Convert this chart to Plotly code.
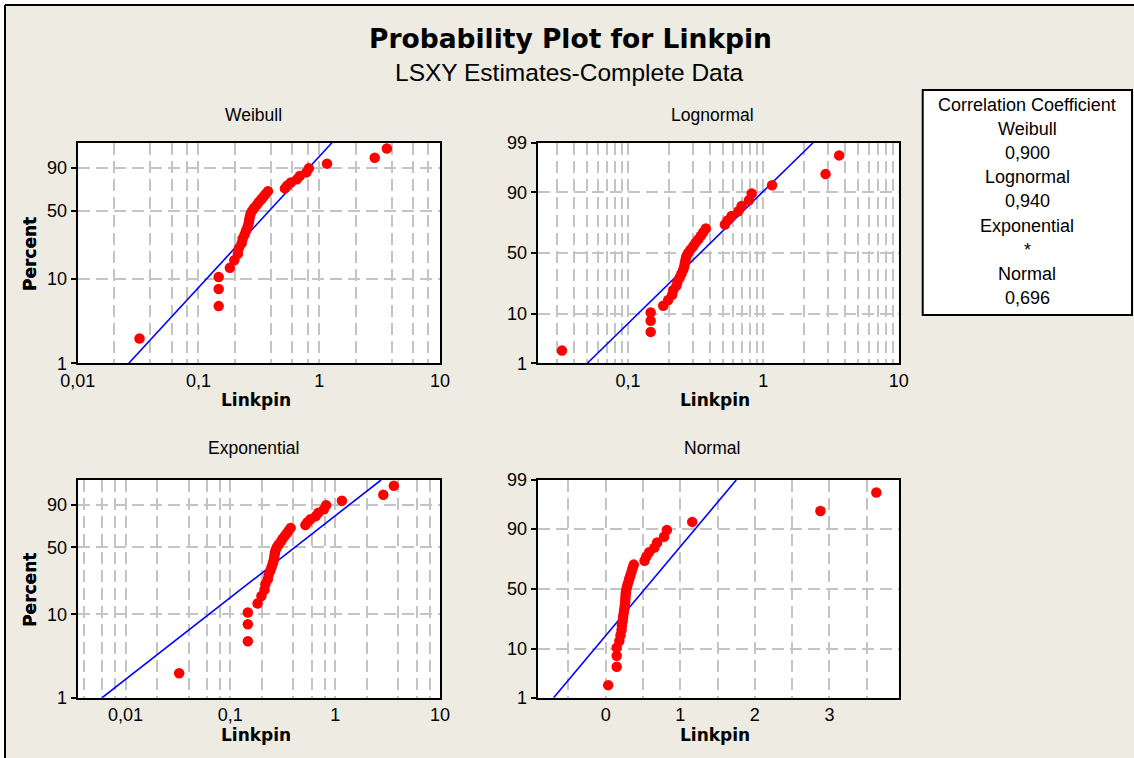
import math
from statistics import NormalDist
import numpy as np
import plotly.graph_objects as go

# ---------------- data ----------------
linkpin = [0.0325, 0.147, 0.147, 0.147, 0.182, 0.198, 0.212, 0.216, 0.228, 0.232,
           0.241, 0.248, 0.255, 0.260, 0.263, 0.266, 0.270, 0.278, 0.289, 0.303,
           0.315, 0.330, 0.345, 0.360, 0.376, 0.520, 0.544, 0.582, 0.653, 0.690,
           0.782, 0.820, 1.16, 2.88, 3.63]
dist_names = ["Weibull", "Lognormal", "Exponential", "Normal"]
corr_values = ["0,900", "0,940", "*", "0,696"]
percent_ticks_weibull = [1, 10, 50, 90]
percent_ticks_normal = [1, 10, 50, 90, 99]
weibull_x_labels = {0.01: "0,01", 0.1: "0,1", 1: "1", 10: "10"}
lognormal_x_labels = {0.1: "0,1", 1: "1", 10: "10"}
exponential_x_labels = {0.01: "0,01", 0.1: "0,1", 1: "1", 10: "10"}
normal_x_labels = {0: "0", 1: "1", 2: "2", 3: "3"}

W, H = 1134, 758
BEIGE = "rgb(238,235,226)"
FONT = "Liberation Sans, Arial, sans-serif"
BOLD = "DejaVu Sans, Verdana, sans-serif"

x = np.array(sorted(linkpin))
n = len(x)
ranks = np.arange(1, n + 1)
p = (ranks - 0.3) / (n + 0.4)          # median ranks (Benard)
nd = NormalDist()

def t_weib(pp):
    return np.log(-np.log(1 - np.asarray(pp, dtype=float)))

def t_norm(pp):
    return np.array([nd.inv_cdf(v) for v in np.atleast_1d(pp)])

def t_exp(pp):
    return np.log10(-np.log(1 - np.asarray(pp, dtype=float)))

P_LO, P_HI = 0.01, 0.99

# LSXY fits (X regressed on transformed percent)
def lsxy(xv, yv):
    b = np.cov(xv, yv, bias=True)[0, 1] / np.var(yv)
    a = xv.mean() - b * yv.mean()
    return a, b

wy = t_weib(p)
a_w, b_w = lsxy(np.log(x), wy)
zy = t_norm(p)
a_l, b_l = lsxy(np.log(x), zy)
ln_theta = np.mean(np.log(x) - wy)       # exponential: shape fixed to 1
a_n, b_n = lsxy(x, zy)

ends = np.array([P_LO, P_HI])
line_w_y = t_weib(ends); line_w_x = np.exp(a_w + b_w * line_w_y)
line_l_y = t_norm(ends); line_l_x = np.exp(a_l + b_l * line_l_y)
line_e_y = t_exp(ends); line_e_x = np.exp(ln_theta) * (-np.log(1 - ends))
line_n_y = t_norm(ends); line_n_x = a_n + b_n * line_n_y

# ---------------- layout helpers ----------------
def dom_x(l, r):
    return [l / W, r / W]

def dom_y(t, b):
    return [1 - b / H, 1 - t / H]

boxes = {
    "Weibull": (77.7, 440, 142.7, 363.3),
    "Lognormal": (537.7, 898.7, 142.7, 363.3),
    "Exponential": (77.7, 440, 480, 697.7),
    "Normal": (537.7, 898.7, 480, 697.7),
}

def log_grid(lo, hi, mults):
    vals = []
    for e in range(-4, 3):
        for m in mults:
            v = m * 10.0 ** e
            if lo * 0.999 <= v <= hi * 1.001:
                vals.append(round(v, 10))
    return sorted(set(vals))

fig = go.Figure()
GRID = dict(showgrid=True, gridcolor="rgb(196,196,196)", gridwidth=2, griddash="12px,6px",
            zeroline=False, showline=True, linecolor="black", linewidth=2, mirror=True,
            automargin=False)

# marks
specs = [
    ("Weibull", "x", "y", x, wy, line_w_x, line_w_y),
    ("Lognormal", "x2", "y2", x, zy, line_l_x, line_l_y),
    ("Exponential", "x3", "y3", x, t_exp(p), line_e_x, line_e_y),
    ("Normal", "x4", "y4", x, zy, line_n_x, line_n_y),
]
for name, xa, ya, xs, ys, lx, ly in specs:
    fig.add_trace(go.Scatter(x=lx, y=ly, xaxis=xa, yaxis=ya, mode="lines",
                             line=dict(color="rgb(0,0,255)", width=1.6),
                             showlegend=False, hoverinfo="skip"))
    fig.add_trace(go.Scatter(x=xs, y=ys, xaxis=xa, yaxis=ya, mode="markers",
                             marker=dict(color="rgb(255,0,0)", size=10.5),
                             showlegend=False, name=name))

def yaxis_def(name, transform, ticks_labeled, grid_p):
    l, r, t, b = boxes[name]
    vals = list(grid_p)
    tv = [float(np.atleast_1d(transform(v / 100.0))[0]) for v in vals]
    tt = [str(v) if v in ticks_labeled else "" for v in vals]
    rng = [float(np.atleast_1d(transform(P_LO))[0]), float(np.atleast_1d(transform(P_HI))[0])]
    return dict(domain=dom_y(t, b), range=rng, tickmode="array", tickvals=tv, ticktext=tt,
                ticks="outside", ticklen=5, tickwidth=2, tickcolor="black",
                tickfont=dict(family=FONT, size=18, color="black"), **GRID)

def xaxis_log(name, lo, hi, mults, labels):
    l, r, t, b = boxes[name]
    grid = log_grid(lo, hi, mults)
    tt = [labels.get(v, labels.get(int(v) if float(v).is_integer() else v, "")) for v in grid]
    return dict(domain=dom_x(l, r), type="log", range=[math.log10(lo), math.log10(hi)],
                tickmode="array", tickvals=grid, ticktext=tt, ticks="",
                tickfont=dict(family=FONT, size=18, color="black"), **GRID)

layout = dict(width=W, height=H, margin=dict(l=0, r=0, t=0, b=0, autoexpand=False),
              paper_bgcolor=BEIGE, plot_bgcolor="white", template="none")

layout["xaxis"] = xaxis_log("Weibull", 0.01, 10, [1, 2, 4, 6, 8], weibull_x_labels)
layout["yaxis"] = yaxis_def("Weibull", t_weib, percent_ticks_weibull, [1, 10, 50, 90])
layout["xaxis"]["anchor"] = "y"; layout["yaxis"]["anchor"] = "x"

layout["xaxis2"] = xaxis_log("Lognormal", 0.0215, 10, [1, 2, 3, 4, 5, 6, 7, 8, 9], lognormal_x_labels)
layout["yaxis2"] = yaxis_def("Lognormal", t_norm, percent_ticks_normal, [1, 10, 50, 90, 99])
layout["xaxis2"]["anchor"] = "y2"; layout["yaxis2"]["anchor"] = "x2"

layout["xaxis3"] = xaxis_log("Exponential", 0.0035, 10, [1, 2, 4, 6, 8], exponential_x_labels)
layout["yaxis3"] = yaxis_def("Exponential", t_exp, percent_ticks_weibull, [1, 10, 50, 90])
layout["xaxis3"]["anchor"] = "y3"; layout["yaxis3"]["anchor"] = "x3"

l, r, t, b = boxes["Normal"]
ngrid = [-0.5, 0, 0.5, 1, 1.5, 2, 2.5, 3, 3.5]
layout["xaxis4"] = dict(domain=dom_x(l, r), range=[-0.913, 3.93], tickmode="array", tickvals=ngrid,
                        ticktext=[normal_x_labels.get(v, "") if float(v).is_integer() else "" for v in ngrid],
                        ticks="", tickfont=dict(family=FONT, size=18, color="black"), anchor="y4", **GRID)
layout["yaxis4"] = yaxis_def("Normal", t_norm, percent_ticks_normal, [1, 10, 50, 90, 99])
layout["yaxis4"]["anchor"] = "x4"

fig.update_layout(**layout)

# ---------------- text ----------------
def ann(text, px, py, size, family=FONT, angle=0, bold=False):
    if bold:
        text = "<b>" + text + "</b>"
    fig.add_annotation(text=text, x=px / W, y=1 - py / H, xref="paper", yref="paper",
                       showarrow=False, xanchor="center", yanchor="middle", textangle=angle,
                       font=dict(family=family, size=size, color="black"))

ann("Probability Plot for Linkpin", 570, 38, 26.5, family=BOLD, bold=True)
ann("LSXY Estimates-Complete Data", 569, 72, 24.5)

title_pos = {"Weibull": (253, 115), "Lognormal": (712, 115), "Exponential": (253, 448), "Normal": (712, 448)}
for nm in dist_names:
    ann(nm, *title_pos[nm], 17.5)
    l, r, t, b = boxes[nm]
    ann("Linkpin", (l + r) / 2 - 3, b + 37, 17, family=BOLD, bold=True)
    ann("Percent", 30, (t + b) / 2 + 1, 17, family=BOLD, angle=-90, bold=True)

# correlation box
fig.add_shape(type="rect", xref="paper", yref="paper", x0=922.7 / W, x1=1132 / W,
              y0=1 - 315 / H, y1=1 - 90 / H, fillcolor="white", line=dict(color="black", width=2))
legend_lines = ["Correlation Coefficient"]
for nm, cv in zip(dist_names, corr_values):
    legend_lines += [nm, cv]
for k, txt in enumerate(legend_lines):
    ann(txt, 1027, 104.5 + 24.2 * k, 18)

# outer frame (white strip + black border at top/left)
fig.add_shape(type="rect", xref="paper", yref="paper", x0=0, x1=1, y0=1 - 4 / H, y1=1,
              fillcolor="white", line=dict(width=0))
fig.add_shape(type="rect", xref="paper", yref="paper", x0=0, x1=4 / W, y0=0, y1=1,
              fillcolor="white", line=dict(width=0))
fig.add_shape(type="line", xref="paper", yref="paper", x0=5 / W, x1=1, y0=1 - 5 / H, y1=1 - 5 / H,
              line=dict(color="black", width=2))
fig.add_shape(type="line", xref="paper", yref="paper", x0=5 / W, x1=5 / W, y0=0, y1=1 - 5 / H,
              line=dict(color="black", width=2))

fig.write_html("out.html", config={"displayModeBar": False},
               post_script="document.body.style.margin='0px';")
